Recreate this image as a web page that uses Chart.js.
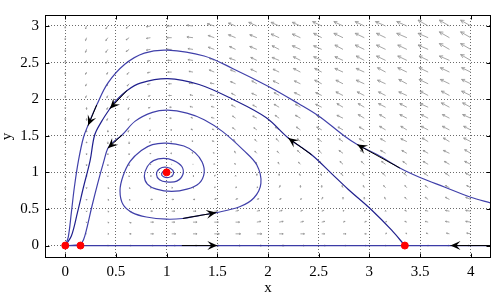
<!DOCTYPE html>
<html>
<head>
<meta charset="utf-8">
<script src="https://cdn.jsdelivr.net/npm/chart.js@4.4.0/dist/chart.umd.min.js"></script>
<style>
  html, body { margin: 0; padding: 0; background: #fff; }
  canvas { display: block; }
</style>
</head>
<body>
<canvas id="phase" width="496" height="297"></canvas>
<script>
// Axis ticks
const xTicks = [0, 0.5, 1, 1.5, 2, 2.5, 3, 3.5, 4];
const yTicks = [0, 0.5, 1, 1.5, 2, 2.5, 3];

// Equilibrium points
const equilibria = [[0, 0], [0.15, 0], [3.35, 0], [1, 1]];

// Trajectories (in flow order)
const orbitOuter = [
    [4.2, 0.58], [4.0, 0.66], [3.74, 0.80], [3.5, 0.93], [3.3, 1.06], [3.08, 1.24],
    [2.88, 1.38], [2.75, 1.5], [2.5, 1.77], [2.3, 1.94], [2.01, 2.17], [1.65, 2.42],
    [1.37, 2.59], [1.01, 2.67], [0.78, 2.63], [0.59, 2.48], [0.42, 2.22], [0.31, 1.92],
    [0.23, 1.66], [0.18, 1.48], [0.13, 1.16], [0.09, 0.80], [0.06, 0.45], [0.03, 0.12], [0, 0]
];
const orbitSaddle = [
    [3.35, 0], [3.22, 0.21], [3.02, 0.49], [2.79, 0.77], [2.63, 0.98], [2.43, 1.24],
    [2.2, 1.47], [1.98, 1.75], [1.65, 2.0], [1.32, 2.2], [1.01, 2.28], [0.74, 2.22],
    [0.61, 2.12], [0.5, 1.98], [0.44, 1.87], [0.36, 1.70], [0.29, 1.51], [0.245, 1.16],
    [0.18, 0.80], [0.12, 0.45], [0.06, 0.13], [0, 0]
];
const orbitSpiral = [
    [1.01, 1.0], [0.98, 1.02], [0.95, 0.98], [0.97, 0.94], [1.02, 0.93], [1.06, 0.96],
    [1.06, 1.03], [1.0, 1.07], [0.93, 1.05], [0.9, 0.97], [0.93, 0.9], [1.0, 0.87],
    [1.1, 0.88], [1.16, 0.97], [1.15, 1.08], [1.07, 1.16], [0.97, 1.19], [0.87, 1.16],
    [0.81, 1.08], [0.78, 0.95], [0.81, 0.84], [0.9, 0.77], [1.05, 0.74], [1.2, 0.77],
    [1.32, 0.85], [1.37, 0.99], [1.35, 1.14], [1.28, 1.27], [1.17, 1.36], [1.0, 1.40],
    [0.86, 1.38], [0.75, 1.30], [0.64, 1.15], [0.57, 0.95], [0.54, 0.75], [0.57, 0.56],
    [0.66, 0.45], [0.8, 0.39], [1.0, 0.36], [1.16, 0.37], [1.32, 0.41], [1.49, 0.45],
    [1.72, 0.53], [1.86, 0.65], [1.93, 0.85], [1.89, 1.1], [1.76, 1.3], [1.55, 1.56],
    [1.37, 1.72], [1.2, 1.81], [1.01, 1.85], [0.86, 1.82], [0.69, 1.70], [0.56, 1.51],
    [0.47, 1.41], [0.42, 1.33], [0.38, 1.15], [0.32, 0.85], [0.26, 0.52], [0.21, 0.22],
    [0.18, 0.08], [0.15, 0.02], [0.1, 0.005], [0, 0]
];
const orbitAxis = [[0, 0], [4.2, 0]];

// Direction arrows on the trajectories: [tail, head]
const flowArrows = [
    [[0.31, 1.92], [0.225, 1.64]],
    [[3.3, 1.06], [2.88, 1.38]],
    [[0.61, 2.12], [0.44, 1.87]],
    [[2.43, 1.24], [2.2, 1.47]],
    [[0.56, 1.51], [0.42, 1.33]],
    [[1.16, 0.37], [1.49, 0.45]],
    [[1.15, 0], [1.5, 0]],
    [[4.2, 0], [3.8, 0]]
];

// Vector field grid (columns x, rows y from top to bottom)
const fieldX = [0, 0.21, 0.42, 0.63, 0.84, 1.05, 1.26, 1.47, 1.68, 1.89,
                2.11, 2.32, 2.53, 2.74, 2.95, 3.16, 3.37, 3.58, 3.79, 4.0];
const fieldY = [3.0, 2.84, 2.68, 2.53, 2.37, 2.21, 2.05, 1.89, 1.74, 1.58,
                1.42, 1.26, 1.11, 0.95, 0.79, 0.63, 0.47, 0.32, 0.16, 0];
const fieldU = [
    [0, -.01, -.02, -.03, -.04, -.05, -.06, -.07, -.07, -.08, -.08, -.08, -.09, -.09, -.09, -.10, -.10, -.10, -.10, -.10],
    [0, -.01, -.02, -.03, -.04, -.05, -.06, -.06, -.07, -.07, -.08, -.08, -.08, -.09, -.09, -.09, -.10, -.10, -.10, -.10],
    [0, -.01, -.02, -.03, -.04, -.05, -.05, -.06, -.06, -.07, -.07, -.08, -.08, -.08, -.09, -.09, -.09, -.10, -.10, -.10],
    [0, -.01, -.02, -.02, -.03, -.04, -.05, -.05, -.06, -.06, -.07, -.07, -.08, -.08, -.08, -.09, -.09, -.09, -.10, -.10],
    [0, -.01, -.01, -.02, -.03, -.04, -.04, -.05, -.05, -.06, -.06, -.07, -.07, -.08, -.08, -.08, -.09, -.09, -.09, -.09],
    [0, -.01, -.01, -.02, -.03, -.03, -.04, -.04, -.05, -.05, -.06, -.06, -.07, -.07, -.08, -.08, -.08, -.09, -.09, -.09],
    [0, -.01, -.01, -.02, -.02, -.03, -.03, -.04, -.04, -.05, -.05, -.06, -.06, -.07, -.07, -.07, -.08, -.08, -.08, -.09],
    [0, 0, -.01, -.01, -.02, -.02, -.03, -.03, -.04, -.04, -.05, -.05, -.06, -.06, -.06, -.07, -.07, -.08, -.08, -.08],
    [0, 0, -.01, -.01, -.01, -.02, -.02, -.03, -.03, -.04, -.04, -.05, -.05, -.06, -.06, -.06, -.07, -.07, -.07, -.08],
    [0, 0, 0, -.01, -.01, -.01, -.02, -.02, -.03, -.03, -.04, -.04, -.05, -.05, -.05, -.06, -.06, -.07, -.07, -.07],
    [0, 0, 0, 0, -.01, -.01, -.01, -.02, -.02, -.02, -.03, -.03, -.04, -.04, -.05, -.05, -.06, -.06, -.06, -.07],
    [0, 0, 0, 0, 0, -.01, -.01, -.01, -.01, -.02, -.02, -.03, -.03, -.04, -.04, -.05, -.05, -.05, -.06, -.06],
    [0, 0, 0, 0, 0, 0, 0, 0, -.01, -.01, -.01, -.02, -.02, -.03, -.03, -.04, -.04, -.05, -.05, -.06],
    [0, 0, 0, 0, .01, .01, .01, .01, 0, 0, 0, -.01, -.01, -.02, -.02, -.03, -.03, -.04, -.04, -.05],
    [0, 0, .01, .01, .01, .01, .01, .01, .01, .01, .01, 0, 0, -.01, -.01, -.02, -.02, -.03, -.04, -.04],
    [0, 0, .01, .01, .02, .02, .02, .02, .02, .02, .02, .01, .01, 0, 0, -.01, -.02, -.03, -.04, -.05],
    [0, 0, .01, .02, .02, .03, .03, .03, .03, .03, .03, .02, .02, .01, .01, 0, -.02, -.03, -.04, -.05],
    [0, 0, .01, .02, .03, .03, .04, .04, .04, .04, .04, .03, .03, .02, .02, .01, -.02, -.03, -.04, -.05],
    [0, 0, .01, .02, .03, .04, .04, .05, .05, .05, .04, .04, .03, .03, .02, .01, -.01, -.02, -.03, -.04],
    [0, 0, .01, .02, .03, .04, .04, .05, .05, .05, .05, .04, .04, .03, .02, .01, 0, -.01, -.02, -.03]
];
const fieldV = [
    [-.03, -.04, -.04, -.03, -.01, 0, .01, .03, .04, .05, .05, .05, .06, .06, .06, .06, .06, .08, .08, .08],
    [-.03, -.04, -.04, -.03, -.01, 0, .01, .03, .04, .04, .05, .05, .06, .06, .06, .06, .06, .06, .08, .08],
    [-.03, -.04, -.04, -.03, -.01, 0, .01, .03, .04, .04, .05, .05, .05, .06, .06, .06, .06, .06, .08, .08],
    [-.03, -.03, -.04, -.03, -.01, 0, .01, .03, .03, .04, .04, .05, .05, .05, .06, .06, .06, .06, .06, .08],
    [-.03, -.03, -.03, -.03, -.01, 0, .01, .03, .03, .04, .04, .05, .05, .05, .05, .06, .06, .06, .06, .06],
    [-.03, -.03, -.03, -.03, -.01, 0, .01, .01, .03, .04, .04, .04, .05, .05, .05, .05, .06, .06, .06, .06],
    [-.03, -.03, -.03, -.03, -.01, 0, .01, .01, .03, .03, .04, .04, .04, .05, .05, .05, .05, .06, .06, .06],
    [-.02, -.03, -.03, -.03, -.01, 0, .01, .01, .03, .03, .04, .04, .04, .05, .05, .05, .05, .05, .06, .06],
    [-.02, -.03, -.03, -.03, -.01, 0, .01, .01, .03, .03, .04, .04, .04, .04, .05, .05, .05, .05, .05, .05],
    [-.02, -.03, -.03, -.03, -.01, 0, .01, .01, .03, .03, .04, .04, .04, .04, .04, .05, .05, .05, .05, .05],
    [-.02, -.02, -.03, -.03, -.01, 0, .01, .01, .03, .03, .04, .04, .04, .04, .04, .04, .04, .05, .05, .05],
    [-.02, -.02, -.02, -.02, -.01, 0, .01, .01, .03, .03, .03, .04, .04, .04, .04, .04, .04, .04, .04, .05],
    [-.01, -.02, -.02, -.02, -.01, 0, 0, .01, .01, .03, .03, .03, .04, .04, .04, .04, .04, .04, .04, .04],
    [-.01, -.01, -.01, -.01, 0, 0, 0, .01, .01, .03, .03, .03, .03, .04, .04, .04, .04, .04, .04, .04],
    [-.01, -.01, -.01, -.01, 0, 0, 0, .01, .01, .01, .03, .03, .03, .03, .03, .03, .03, .03, .03, .03],
    [-.01, -.01, -.01, -.01, 0, 0, 0, .01, .01, .01, .01, .01, .03, .03, .03, .03, .03, .03, .03, .03],
    [0, -.01, -.01, -.01, 0, 0, 0, 0, .01, .01, .01, .01, .01, .01, .01, .01, .01, .01, .01, .01],
    [0, -.01, -.01, -.01, 0, 0, 0, 0, 0, .01, .01, .01, .01, .01, .01, .01, .01, .01, .01, .01],
    [0, 0, 0, 0, 0, 0, 0, 0, 0, 0, 0, 0, 0, 0, 0, .01, .01, .01, .01, .01],
    [0, 0, 0, 0, 0, 0, 0, 0, 0, 0, 0, 0, 0, 0, 0, 0, 0, 0, 0, 0]
];

const serif = "'Liberation Serif', 'Times New Roman', serif";

let toPoints = list => list.map(([x, y]) => ({x, y}));

let orbitDataset = (list, color) => ({
    data: toPoints(list),
    showLine: true,
    borderColor: color,
    borderWidth: 1.2,
    pointRadius: 0,
    tension: 0.35,
    order: 3
});

let drawHead = (ctx, x0, y0, x1, y1, len, half, notch) => {
    const a = Math.atan2(y1 - y0, x1 - x0);
    ctx.save();
    ctx.translate(x1, y1);
    ctx.rotate(a);
    ctx.beginPath();
    ctx.moveTo(0, 0);
    ctx.lineTo(-len, half);
    ctx.lineTo(-len * notch, 0);
    ctx.lineTo(-len, -half);
    ctx.closePath();
    ctx.fill();
    ctx.restore();
};

// quiver field, drawn under the trajectories
const quiverPlugin = {
    id: 'quiver',
    beforeDatasetsDraw(chart) {
        const {ctx, chartArea: area, scales: {x, y}} = chart;
        ctx.save();
        ctx.beginPath();
        ctx.rect(area.left, area.top, area.right - area.left, area.bottom - area.top);
        ctx.clip();
        ctx.strokeStyle = '#959595';
        ctx.lineWidth = 0.85;
        fieldY.forEach((yv, r) => {
            fieldX.forEach((xv, c) => {
                const x0 = x.getPixelForValue(xv);
                const y0 = y.getPixelForValue(yv);
                const x1 = x.getPixelForValue(xv + fieldU[r][c]);
                const y1 = y.getPixelForValue(yv + fieldV[r][c]);
                const len = Math.hypot(x1 - x0, y1 - y0);
                ctx.beginPath();
                if (len < 0.6) {
                    ctx.moveTo(x0 - 0.4, y0);
                    ctx.lineTo(x0 + 0.4, y0);
                    ctx.stroke();
                    return;
                }
                const a = Math.atan2(y1 - y0, x1 - x0);
                const h = Math.max(1.2, len * 0.35);
                ctx.moveTo(x0, y0);
                ctx.lineTo(x1, y1);
                ctx.moveTo(x1 - h * Math.cos(a - 0.45), y1 - h * Math.sin(a - 0.45));
                ctx.lineTo(x1, y1);
                ctx.lineTo(x1 - h * Math.cos(a + 0.45), y1 - h * Math.sin(a + 0.45));
                ctx.stroke();
            });
        });
        ctx.restore();
    },
    afterDatasetsDraw(chart) {
        const {ctx, chartArea: area, scales: {x, y}} = chart;
        // arrowheads on trajectories
        ctx.save();
        ctx.fillStyle = '#000';
        flowArrows.forEach(([tail, head]) => {
            drawHead(ctx,
                x.getPixelForValue(tail[0]), y.getPixelForValue(tail[1]),
                x.getPixelForValue(head[0]), y.getPixelForValue(head[1]),
                10, 4.5, 0.6);
        });
        ctx.restore();

        // box and inner tick marks
        ctx.save();
        ctx.strokeStyle = '#000';
        ctx.lineWidth = 1;
        const l = Math.round(area.left) + 0.5, r = Math.round(area.right) - 0.5;
        const t = Math.round(area.top) + 0.5, b = Math.round(area.bottom) - 0.5;
        ctx.strokeRect(l, t, r - l, b - t);
        ctx.beginPath();
        xTicks.forEach(v => {
            const p = Math.round(x.getPixelForValue(v)) + 0.5;
            ctx.moveTo(p, b); ctx.lineTo(p, b - 4);
            ctx.moveTo(p, t); ctx.lineTo(p, t + 4);
        });
        yTicks.forEach(v => {
            const p = Math.round(y.getPixelForValue(v)) + 0.5;
            ctx.moveTo(l, p); ctx.lineTo(l + 4, p);
            ctx.moveTo(r, p); ctx.lineTo(r - 4, p);
        });
        ctx.stroke();
        ctx.restore();
    }
};

let datasets = [
    orbitDataset(orbitAxis, '#3b3ba6'),
    orbitDataset(orbitOuter, '#4040aa'),
    orbitDataset(orbitSaddle, '#20208e'),
    orbitDataset(orbitSpiral, '#4040aa')
];

flowArrows.forEach(([tail, head]) => {
    datasets.push({
        data: toPoints([tail, head]),
        showLine: true,
        borderColor: '#000',
        borderWidth: 1,
        pointRadius: 0,
        order: 2
    });
});

datasets.push({
    data: toPoints(equilibria),
    showLine: false,
    pointRadius: 3.5,
    pointBackgroundColor: '#ff0000',
    pointBorderColor: '#ff0000',
    order: 0
});

const tickFont = {family: serif, size: 15};

new Chart(document.getElementById('phase'), {
    type: 'scatter',
    data: {datasets},
    options: {
        responsive: false,
        animation: false,
        devicePixelRatio: 1,
        layout: {padding: {top: 2, right: 1, left: 0, bottom: 0}},
        plugins: {legend: {display: false}, tooltip: {enabled: false}},
        scales: {
            x: {
                type: 'linear',
                min: -0.2,
                max: 4.2,
                afterBuildTicks: s => { s.ticks = xTicks.map(value => ({value})); },
                afterFit: s => { s.height = 39; },
                ticks: {font: tickFont, color: '#000', padding: 5, maxRotation: 0, callback: v => String(v)},
                grid: {color: '#6a6a6a', lineWidth: 1, drawTicks: false},
                border: {display: false, dash: [1, 2]},
                title: {display: true, text: 'x', font: tickFont, color: '#000', padding: 0}
            },
            y: {
                type: 'linear',
                min: -0.17,
                max: 3.15,
                afterBuildTicks: s => { s.ticks = yTicks.map(value => ({value})); },
                afterFit: s => { s.width = 45; },
                ticks: {font: tickFont, color: '#000', padding: 6, callback: v => String(v)},
                grid: {color: '#6a6a6a', lineWidth: 1, drawTicks: false},
                border: {display: false, dash: [1, 2]},
                title: {display: true, text: 'y', font: {family: serif, size: 15, lineHeight: 1}, color: '#000', padding: 0}
            }
        }
    },
    plugins: [quiverPlugin]
});
</script>
</body>
</html>
